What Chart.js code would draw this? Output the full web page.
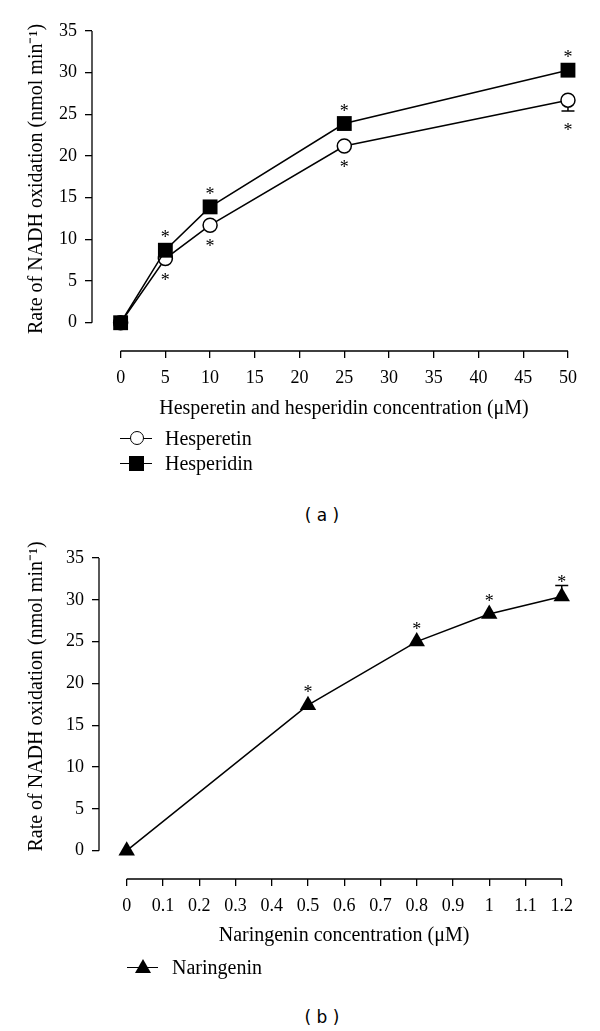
<!DOCTYPE html>
<html>
<head>
<meta charset="utf-8">
<script src="https://cdn.jsdelivr.net/npm/chart.js@4"></script>
<style>
    body { margin: 0; background: #fff; width: 600px; height: 1031px; position: relative; overflow: hidden; font-family: 'Liberation Serif', serif; color: #000; }
    canvas { position: absolute; left: 0; }
    .lg-text { position: absolute; font-size: 20px; line-height: 24px; white-space: nowrap; }
    .lg-line { position: absolute; height: 0; border-top: 1.5px solid #000; }
    .mk-circle { position: absolute; width: 12px; height: 12px; border: 1.5px solid #000; border-radius: 50%; background: #fff; }
    .mk-square { position: absolute; width: 15px; height: 15px; background: #000; }
    .mk-tri { position: absolute; width: 0; height: 0; border-left: 8px solid transparent; border-right: 8px solid transparent; border-bottom: 14px solid #000; }
    .caption { position: absolute; width: 600px; text-align: center; font-family: 'DejaVu Sans', sans-serif; font-size: 17px; line-height: 20px; }
</style>
</head>
<body>
<canvas id="chart-a" width="600" height="440" style="top:0"></canvas>
<canvas id="chart-b" width="600" height="440" style="top:527px"></canvas>

<!-- legend (a) -->
<div class="lg-line" style="left:120px; top:438px; width:32px"></div>
<div class="mk-circle" style="left:130px; top:431px"></div>
<div class="lg-text" style="left:165px; top:426px">Hesperetin</div>
<div class="lg-line" style="left:120px; top:463px; width:32px"></div>
<div class="mk-square" style="left:129px; top:456px"></div>
<div class="lg-text" style="left:165px; top:451px">Hesperidin</div>
<div class="caption" style="top:505px; left:22px">( a )</div>

<!-- legend (b) -->
<div class="lg-line" style="left:127px; top:967px; width:31px"></div>
<div class="mk-tri" style="left:135px; top:959px"></div>
<div class="lg-text" style="left:172px; top:955px">Naringenin</div>
<div class="caption" style="top:1007px; left:22px">( b )</div>

<script>
// --- data ---
const hesConc = [0, 5, 10, 25, 50];
const hesperetin = [0, 7.7, 11.7, 21.2, 26.7];
const hesperetinErr = [0, 0, 0, 0, 1.3];
const hesperetinStars = [false, true, true, true, true];
const hesperidin = [0, 8.7, 13.9, 23.9, 30.3];
const hesperidinErr = [0, 0, 0, 0, 0];
const hesperidinStars = [false, true, true, true, true];

const narConc = [0, 0.5, 0.8, 1, 1.2];
const naringenin = [0, 17.4, 25.0, 28.3, 30.4];
const naringeninErr = [0, 0, 0, 0, 1.3];
const naringeninStars = [false, true, true, true, true];

const yTicks = [0, 5, 10, 15, 20, 25, 30, 35];
const xTicksA = [0, 5, 10, 15, 20, 25, 30, 35, 40, 45, 50];
const xTicksB = [0, 0.1, 0.2, 0.3, 0.4, 0.5, 0.6, 0.7, 0.8, 0.9, 1, 1.1, 1.2];

const serif = 'Liberation Serif';
const yTitle = 'Rate of NADH oxidation (nmol min\u207B\u00B9)';
const toPoints = (xs, ys) => xs.map((v, i) => ({ x: v, y: ys[i] }));

// axis lines (detached), error bars, asterisks
const extras = {
    id: 'extras',
    beforeDatasetsDraw(chart) {
        const { ctx, chartArea, scales: { x, y } } = chart;
        const o = chart.options.plugins.extras;
        ctx.save();
        ctx.strokeStyle = '#000';
        ctx.lineWidth = 1.3;
        ctx.beginPath();
        ctx.moveTo(chartArea.left, y.getPixelForValue(o.yTicks[0]));
        ctx.lineTo(chartArea.left, y.getPixelForValue(o.yTicks[o.yTicks.length - 1]));
        ctx.moveTo(x.getPixelForValue(o.xTicks[0]), chartArea.bottom);
        ctx.lineTo(x.getPixelForValue(o.xTicks[o.xTicks.length - 1]), chartArea.bottom);
        ctx.stroke();

        ctx.lineWidth = 1.5;
        chart.data.datasets.forEach(ds => {
            ds.data.forEach((p, j) => {
                const e = ds.err[j];
                if (!e) return;
                const px = x.getPixelForValue(p.x);
                const y1 = y.getPixelForValue(p.y);
                const y2 = y.getPixelForValue(p.y + ds.errDir * e);
                ctx.beginPath();
                ctx.moveTo(px, y1); ctx.lineTo(px, y2);
                ctx.moveTo(px - 6.5, y2); ctx.lineTo(px + 6.5, y2);
                ctx.stroke();
            });
        });
        ctx.restore();
    },
    afterDatasetsDraw(chart) {
        const { ctx, scales: { x, y } } = chart;
        ctx.save();
        ctx.fillStyle = '#000';
        ctx.font = '18px "' + serif + '"';
        ctx.textAlign = 'center';
        ctx.textBaseline = 'alphabetic';
        chart.data.datasets.forEach(ds => {
            ds.data.forEach((p, j) => {
                if (!ds.stars[j]) return;
                const e = ds.err[j];
                const px = x.getPixelForValue(p.x);
                const tip = y.getPixelForValue(p.y + ds.errDir * e);
                let sy;
                if (ds.errDir > 0) sy = tip - (e ? 8 : 17);
                else sy = tip + (e ? 15 : 17);
                ctx.fillText('*', px, sy + 10);
            });
        });
        ctx.restore();
    }
};

function axisOptions(cfg) {
    const tickFont = { family: serif, size: 18 };
    const titleFont = { family: serif, size: 20 };
    const gridOpts = { display: true, drawOnChartArea: false, drawTicks: true, tickLength: 7, color: '#000', lineWidth: 1.3 };
    return {
        x: {
            type: 'linear',
            min: cfg.xMin, max: cfg.xMax,
            afterBuildTicks: s => { s.ticks = cfg.xTicks.map(v => ({ value: v })); },
            afterFit: s => { s.height = 440 - cfg.bottom; },
            ticks: { font: tickFont, color: '#000', padding: 9, maxRotation: 0, autoSkip: false, callback: v => String(v) },
            grid: gridOpts,
            border: { display: false },
            // leading spaces nudge the centred title to the right, as in the original
            title: { display: true, text: '\u2003\u2009' + cfg.xTitle, font: titleFont, color: '#000', padding: { top: 4, bottom: 19 } }
        },
        y: {
            min: cfg.yMin, max: 35,
            afterBuildTicks: s => { s.ticks = yTicks.map(v => ({ value: v })); },
            afterFit: s => { s.width = cfg.left; },
            ticks: { font: tickFont, color: '#000', padding: 8 },
            grid: gridOpts,
            border: { display: false },
            title: { display: true, text: cfg.yPad + yTitle, font: titleFont, color: '#000', padding: { top: 25, bottom: 0 } }
        }
    };
}

// (a) Hesperetin / Hesperidin
new Chart(document.getElementById('chart-a'), {
    type: 'line',
    data: {
        datasets: [
            {
                label: 'Hesperetin', data: toPoints(hesConc, hesperetin),
                borderColor: '#000', borderWidth: 1.5, pointStyle: 'circle', pointRadius: 7,
                pointBackgroundColor: '#fff', pointBorderColor: '#000', pointBorderWidth: 1.5,
                err: hesperetinErr, errDir: -1, stars: hesperetinStars, order: 1, clip: false
            },
            {
                label: 'Hesperidin', data: toPoints(hesConc, hesperidin),
                borderColor: '#000', borderWidth: 1.5, pointStyle: 'rect', pointRadius: 10.5,
                pointBackgroundColor: '#000', pointBorderColor: '#000', pointBorderWidth: 0,
                err: hesperidinErr, errDir: 1, stars: hesperidinStars, order: 0, clip: false
            }
        ]
    },
    options: {
        responsive: false, animation: false,
        layout: { padding: { left: 0, top: 31, right: 28, bottom: 0 } },
        plugins: { legend: { display: false }, tooltip: { enabled: false }, extras: { xTicks: xTicksA, yTicks: yTicks } },
        scales: axisOptions({ xMin: -3.2, xMax: 50.45, yMin: -3.39, xTicks: xTicksA, left: 92, bottom: 351,
            yPad: '\u2003\u2009', xTitle: 'Hesperetin and hesperidin concentration (\u03BCM)' })
    },
    plugins: [extras]
});

// (b) Naringenin
new Chart(document.getElementById('chart-b'), {
    type: 'line',
    data: {
        datasets: [
            {
                label: 'Naringenin', data: toPoints(narConc, naringenin),
                borderColor: '#000', borderWidth: 1.5, pointStyle: 'triangle', pointRadius: 9.5,
                pointBackgroundColor: '#000', pointBorderColor: '#000', pointBorderWidth: 0,
                err: naringeninErr, errDir: 1, stars: naringeninStars, clip: false
            }
        ]
    },
    options: {
        responsive: false, animation: false,
        layout: { padding: { left: 0, top: 31, right: 35, bottom: 0 } },
        plugins: { legend: { display: false }, tooltip: { enabled: false }, extras: { xTicks: xTicksB, yTicks: yTicks } },
        scales: axisOptions({ xMin: -0.0764, xMax: 1.209, yMin: -3.39, xTicks: xTicksB, left: 99, bottom: 352,
            yPad: '\u2003\u2003\u2009', xTitle: 'Naringenin concentration (\u03BCM)' })
    },
    plugins: [extras]
});
</script>
</body>
</html>
